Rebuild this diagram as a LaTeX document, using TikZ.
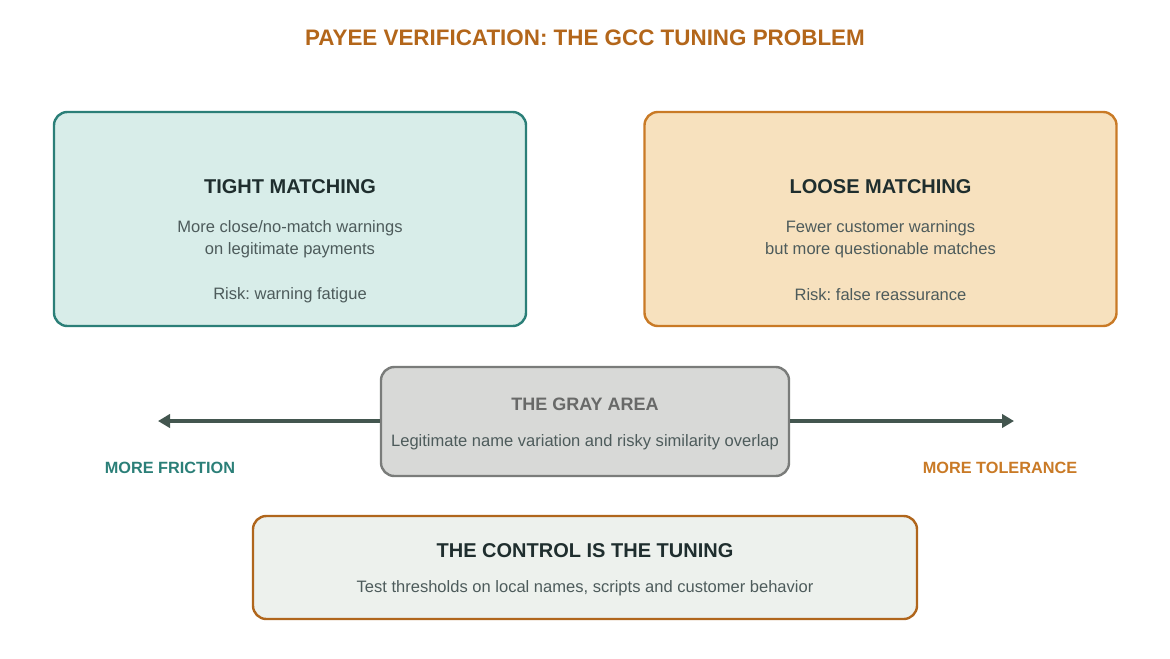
\documentclass[tikz,border=0pt]{standalone}
\usepackage{fontspec}
\setmainfont{Liberation Sans}
\frenchspacing
\usetikzlibrary{arrows.meta}
\definecolor{tealline}{HTML}{2B7F78}
\definecolor{tealfill}{HTML}{D8EDE9}
\definecolor{orangeline}{HTML}{C97A26}
\definecolor{orangefill}{HTML}{F7E1BE}
\definecolor{grayline}{HTML}{7A7C7A}
\definecolor{grayfill}{HTML}{D8D9D7}
\definecolor{ctrlline}{HTML}{B0661C}
\definecolor{ctrlfill}{HTML}{EDF1ED}
\definecolor{titlecol}{HTML}{B3661A}
\definecolor{headcol}{HTML}{1F2E2E}
\definecolor{bodycol}{HTML}{4D5B5B}
\definecolor{arrowcol}{HTML}{43564F}
\tikzset{
  panel/.style={draw, line width=1.8pt, rounded corners=10pt, minimum width=354pt, minimum height=160.5pt},
  head/.style={font=\bfseries\fontsize{15}{18}\selectfont, text=headcol},
  body/.style={font=\fontsize{12.4}{16.5}\selectfont, text=bodycol, align=center},
  side/.style={font=\bfseries\fontsize{12.2}{14}\selectfont},
  spread/.style={-{Triangle[length=9pt,width=10pt]}, line width=2.8pt, draw=arrowcol}
}
\begin{document}
\begin{tikzpicture}[x=0.75pt,y=-0.75pt]
\useasboundingbox (0,0) rectangle (1170,658);
% titel
\node[font=\bfseries\fontsize{16.8}{20}\selectfont, text=titlecol] (title) at (585,38) {PAYEE VERIFICATION: THE GCC TUNING PROBLEM};
% strenge kant
\node[panel, draw=tealline, fill=tealfill] (tight) at (290,219) {};
\node[head] (tighthead) at (290,187) {TIGHT MATCHING};
\node[body] (tightbody) at (290,239.5) {More close/no-match warnings\\on legitimate payments};
\node[body] (tightrisk) at (290,295) {Risk: warning fatigue};
% losse kant
\node[panel, draw=orangeline, fill=orangefill] (loose) at (880.5,219) {};
\node[head] (loosehead) at (880.5,187) {LOOSE MATCHING};
\node[body] (loosebody) at (880.5,239.5) {Fewer customer warnings\\but more questionable matches};
\node[body] (looserisk) at (880.5,295) {Risk: false reassurance};
% grijze zone
\node[draw=grayline, fill=grayfill, line width=1.8pt, rounded corners=10pt, minimum width=306pt, minimum height=81.75pt] (gray) at (585,421.5) {};
\node[font=\bfseries\fontsize{13.5}{16}\selectfont, text=grayline!85!black] (grayhead) at (585,404) {THE GRAY AREA};
\node[body] (graybody) at (585,442) {Legitimate name variation and risky similarity overlap};
% pijlen
\coordinate (leftend) at (158,421);
\coordinate (rightend) at (1014,421);
\draw[spread] (gray.west |- 0,421) -- (leftend);
\draw[spread] (gray.east |- 0,421) -- (rightend);
\node[side, text=tealline] (friction) at (170,468) {MORE FRICTION};
\node[side, text=orangeline] (tolerance) at (1000,468) {MORE TOLERANCE};
% controle
\node[draw=ctrlline, fill=ctrlfill, line width=1.8pt, rounded corners=10pt, minimum width=498pt, minimum height=77.25pt] (control) at (585,567.5) {};
\node[head] (ctrlhead) at (585,551) {THE CONTROL IS THE TUNING};
\node[body] (ctrlbody) at (585,588) {Test thresholds on local names, scripts and customer behavior};
\end{tikzpicture}
\end{document}
